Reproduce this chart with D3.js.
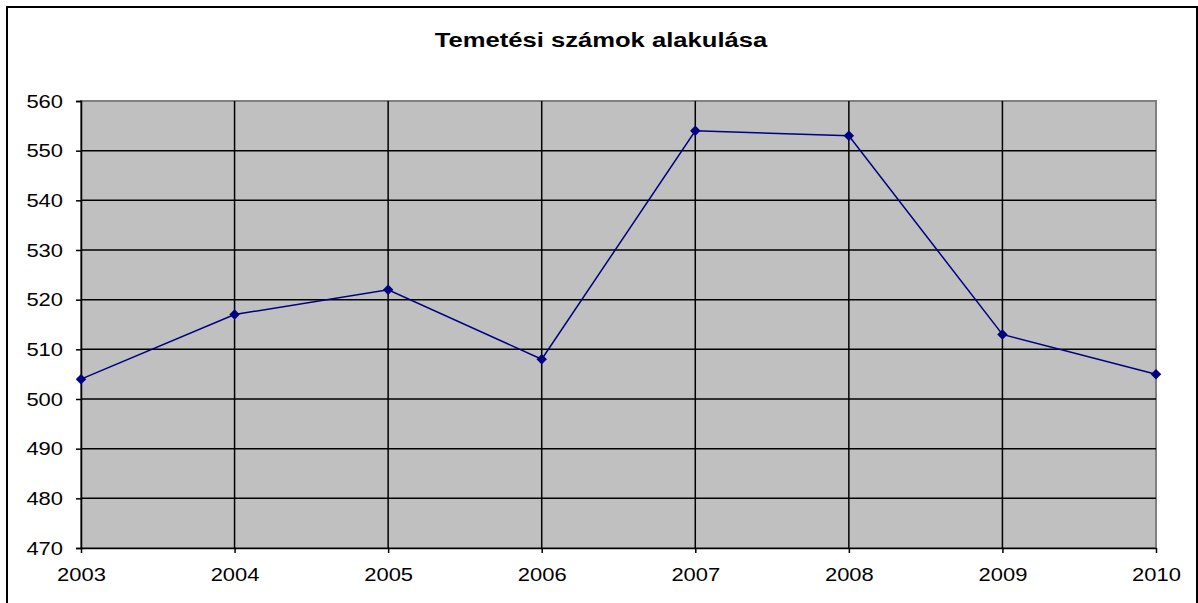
<!DOCTYPE html>
<html>
<head>
<meta charset="utf-8">
<script src="https://cdn.jsdelivr.net/npm/d3@7"></script>
<style>
  body { margin: 0; background: #fff; }
  text { font-family: "Liberation Sans", Arial, sans-serif; fill: #000; }
</style>
</head>
<body>
<div id="chart"></div>
<script>
const title = "Temetési számok alakulása";
const years = ["2003", "2004", "2005", "2006", "2007", "2008", "2009", "2010"];
const burials = [504, 517, 522, 508, 554, 553, 513, 505];
const yTicks = [470, 480, 490, 500, 510, 520, 530, 540, 550, 560];

const W = 1198, H = 603;
const plot = { left: 81, right: 1156, top: 101, bottom: 548 };
const stretch = 1.22; // labels in the picture are horizontally wide

const svg = d3
  .select("#chart")
  .append("svg")
  .attr("width", W)
  .attr("height", H);

// outer chart border
svg
  .append("rect")
  .attr("x", 7)
  .attr("y", 7)
  .attr("width", 1190)
  .attr("height", 610)
  .attr("fill", "#fff")
  .attr("stroke", "#000")
  .attr("stroke-width", 2);

const x = d3.scalePoint().domain(years).range([plot.left, plot.right]);
const y = d3
  .scaleLinear()
  .domain([470, 560])
  .range([plot.bottom, plot.top]);

// plot area
svg
  .append("rect")
  .attr("x", plot.left)
  .attr("y", plot.top)
  .attr("width", plot.right - plot.left)
  .attr("height", plot.bottom - plot.top)
  .attr("fill", "#c0c0c0")
  .attr("stroke", "#808080")
  .attr("stroke-width", 2);

// horizontal gridlines
svg
  .append("g")
  .selectAll("line")
  .data(yTicks.filter((d) => d !== 470 && d !== 560))
  .join("line")
  .attr("x1", plot.left)
  .attr("x2", plot.right)
  .attr("y1", (d) => y(d))
  .attr("y2", (d) => y(d))
  .attr("stroke", "#000")
  .attr("stroke-width", 1.5);

// vertical gridlines
svg
  .append("g")
  .selectAll("line")
  .data(years.slice(1, -1))
  .join("line")
  .attr("x1", (d) => x(d))
  .attr("x2", (d) => x(d))
  .attr("y1", plot.top)
  .attr("y2", plot.bottom)
  .attr("stroke", "#000")
  .attr("stroke-width", 1.5);

// y axis
const yAxis = svg
  .append("g")
  .attr("transform", `translate(${plot.left},0)`)
  .call(d3.axisLeft(y).tickValues(yTicks).tickSize(5).tickPadding(0));
yAxis.select(".domain").attr("stroke", "#000").attr("stroke-width", 1.5);
yAxis.selectAll(".tick line").attr("stroke", "#000").attr("stroke-width", 1.5);
yAxis
  .selectAll(".tick text")
  .attr("x", null)
  .attr("dy", null)
  .attr("font-size", 18)
  .attr("dominant-baseline", "central")
  .attr("text-anchor", "end")
  .attr("transform", `translate(-18,0) scale(${stretch},1)`);

// x axis
const xAxis = svg
  .append("g")
  .attr("transform", `translate(0,${plot.bottom})`)
  .call(d3.axisBottom(x).tickSize(5).tickSizeOuter(0));
xAxis.select(".domain").attr("stroke", "#000").attr("stroke-width", 1.5);
xAxis.selectAll(".tick line").attr("stroke", "#000").attr("stroke-width", 1.5);
xAxis
  .selectAll(".tick text")
  .attr("y", null)
  .attr("dy", null)
  .attr("font-size", 18)
  .attr("text-anchor", "middle")
  .attr("transform", `translate(0,33) scale(${stretch},1)`);
svg.selectAll(".tick text").attr("fill", "#000");

// series
const pts = years.map((yr, i) => ({ year: yr, value: burials[i] }));

svg
  .append("path")
  .datum(pts)
  .attr("fill", "none")
  .attr("stroke", "#000080")
  .attr("stroke-width", 1.5)
  .attr(
    "d",
    d3
      .line()
      .x((d) => x(d.year))
      .y((d) => y(d.value))
  );

svg
  .append("g")
  .selectAll("path")
  .data(pts)
  .join("path")
  .attr("d", d3.symbol(d3.symbolSquare, 55))
  .attr(
    "transform",
    (d) => `translate(${x(d.year)},${y(d.value)}) rotate(45)`
  )
  .attr("fill", "#000080");

// title
svg
  .append("text")
  .attr("font-size", 21)
  .attr("font-weight", "bold")
  .attr("text-anchor", "middle")
  .attr("transform", `translate(601,47) scale(${stretch},1)`)
  .text(title);
</script>
</body>
</html>
